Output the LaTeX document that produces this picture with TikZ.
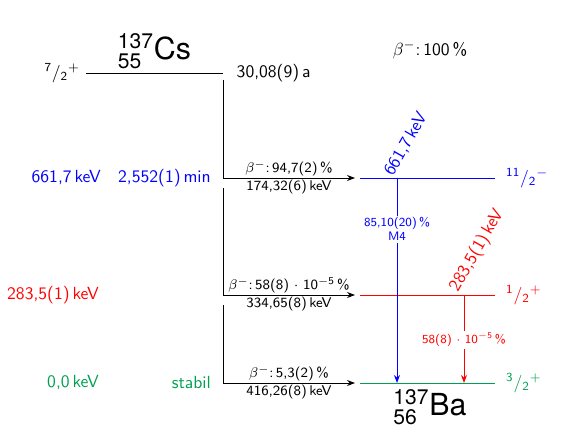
\documentclass[tikz,border=0pt]{standalone}
\usepackage{amsmath}
\usepackage{fontspec}
\newfontfamily\heros{TeX Gyre Heros}
\renewcommand{\familydefault}{\sfdefault}
\usepackage{xcolor}
\definecolor{cBlue}{HTML}{0000FF}
\definecolor{cRed}{HTML}{FF0000}
\definecolor{cGreen}{HTML}{00A050}
\usepackage{tikz}
\usetikzlibrary{positioning,arrows.meta}
\newcommand{\nuclide}[3]{${}^{\text{\heros #1}}_{\text{\heros #2}}\text{\heros #3}$}
\newcommand{\spin}[3]{\textsuperscript{#1}/\textsubscript{#2}\textsuperscript{$#3$}}
\tikzset{
  level-line/.style={line width=0.5pt},
  beta-arrow/.style={-{Stealth[length=1.6mm]},line width=0.55pt},
  gamma-arrow/.style={-{Stealth[length=1.6mm]},line width=0.55pt},
  decay-label/.style={font=\footnotesize,inner sep=1pt},
  gamma-label/.style={font=\scriptsize,fill=white,align=center,inner sep=1pt},
  energy-label/.style={rotate=60,anchor=south west,inner sep=1pt},
}

\begin{document}
\begin{tikzpicture}[x=0.2mm,y=-0.2mm]
  \useasboundingbox (0,0) rectangle (580,437);
  % Mutterkern
  \coordinate (cs-l) at (86,73);
  \coordinate (cs-r) at (223,73);
  \draw[level-line] (cs-l) -- node[above=-1pt] (cs) {\LARGE\nuclide{137}{55}{Cs}} (cs-r);
  \node[left=0pt of cs-l]    (cs-spin) {\spin{7}{2}{+}};
  \node[right=1.5mm of cs-r] (cs-half) {30,08(9)\,a};
  \node (cs-branch) at (430,50) {$\beta^-$:\,100\,\%};

  % Niveaus im Tochterkern
  \coordinate (l661-l) at (360,178);
  \coordinate (l661-r) at (495,178);
  \coordinate (l283-l) at (360,295);
  \coordinate (l283-r) at (495,295);
  \coordinate (l0-l)   at (360,383);
  \coordinate (l0-r)   at (495,383);
  \draw[level-line,cBlue]  (l661-l) -- (l661-r);
  \draw[level-line,cRed]   (l283-l) -- (l283-r);
  \draw[level-line,cGreen] (l0-l) -- (l0-r);
  \node[right=1mm of l661-r,text=cBlue] (s661) {\spin{11}{2}{-}};
  \node[right=1mm of l283-r,text=cRed]  (s283) {\spin{1}{2}{+}};
  \node[right=1mm of l0-r,text=cGreen]  (s0)   {\spin{3}{2}{+}};
  \node[anchor=east,text=cBlue]  (e661) at (107,178) {661,7\,keV};
  \node[anchor=east,text=cBlue]  (t661) at (217,178) {2,552(1)\,min};
  \node[anchor=east,text=cRed]   (e283) at (105,295) {283,5(1)\,keV};
  \node[anchor=east,text=cGreen] (e0)   at (105,382) {0,0\,keV};
  \node[anchor=east,text=cGreen] (t0)   at (217,382) {stabil};
  \node[anchor=north] (ba) at (430,383) {\LARGE\nuclide{137}{56}{Ba}};

  % Beta-Zerfaelle
  \coordinate (b1-s) at (223,80);
  \coordinate (b1-e) at (355,178);
  \coordinate (b2-s) at (223,188);
  \coordinate (b2-e) at (355,295);
  \coordinate (b3-s) at (223,305);
  \coordinate (b3-e) at (355,383);
  \draw[beta-arrow] (b1-s) |-
    node[decay-label,pos=0.75,above] (b1-top) {$\beta^-$:\,94,7(2)\,\%}
    node[decay-label,pos=0.75,below] (b1-bot) {174,32(6)\,keV} (b1-e);
  \draw[beta-arrow] (b2-s) |-
    node[decay-label,pos=0.75,above] (b2-top) {$\beta^-$:\,58(8)\ $\cdot$\ 10\textsuperscript{$-$5}\,\%}
    node[decay-label,pos=0.75,below] (b2-bot) {334,65(8)\,keV} (b2-e);
  \draw[beta-arrow] (b3-s) |-
    node[decay-label,pos=0.75,above] (b3-top) {$\beta^-$:\,5,3(2)\,\%}
    node[decay-label,pos=0.75,below] (b3-bot) {416,26(8)\,keV} (b3-e);

  % Gamma-Uebergaenge
  \coordinate (g1-s) at (397,178);
  \coordinate (g1-e) at (397,383);
  \coordinate (g2-s) at (464,295);
  \coordinate (g2-e) at (464,383);
  \draw[gamma-arrow,cBlue] (g1-s) --
    node[gamma-label,pos=0.25,text=cBlue] (g1-lab) {85,10(20)\,\%\\M4} (g1-e);
  \draw[gamma-arrow,cRed] (g2-s) --
    node[gamma-label,pos=0.51,text=cRed] (g2-lab) {58(8)\ $\cdot$\ 10\textsuperscript{$-$5}\,\%} (g2-e);
  \node[energy-label,text=cBlue,xshift=-0.6mm] (g1-en) at (g1-s) {661,7\,keV};
  \node[energy-label,text=cRed,xshift=-0.6mm]  (g2-en) at (g2-s) {283,5(1)\,keV};
\end{tikzpicture}
\end{document}
